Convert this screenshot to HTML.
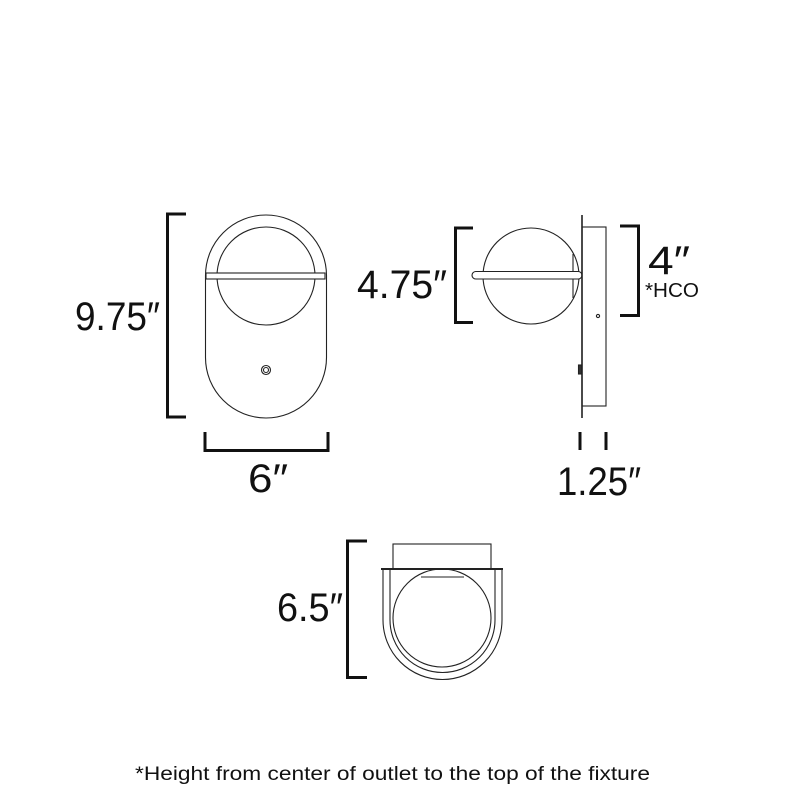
<!DOCTYPE html>
<html><head><meta charset="utf-8"><style>html,body{margin:0;padding:0;background:#fff}</style></head>
<body>
<svg width="800" height="800" viewBox="0 0 800 800" xmlns="http://www.w3.org/2000/svg" font-family="Liberation Sans, sans-serif">
<rect width="800" height="800" fill="#fff"/>
<g fill="none" stroke="#222" stroke-width="1.1">
  <!-- front view -->
  <rect x="205.5" y="215" width="121" height="203" rx="60.5" ry="60.5"/>
  <circle cx="266" cy="276" r="49"/>
  <rect x="206" y="273" width="119" height="6" fill="#fff"/>
  <circle cx="266" cy="370" r="4.5"/>
  <circle cx="266" cy="370" r="2.5"/>
  <!-- side view -->
  <circle cx="531" cy="276" r="48"/>
  <line x1="573" y1="254" x2="573" y2="298"/>
  <rect x="472" y="271.5" width="110" height="7.5" rx="3.75" fill="#fff"/>
  <rect x="582" y="227" width="24" height="179"/>
  <line x1="582" y1="215" x2="582" y2="418" stroke-width="1.6"/>
  <circle cx="598" cy="316" r="1.6"/>
  <rect x="578.5" y="365" width="3" height="9" fill="#333"/>
  <!-- bottom view -->
  <rect x="393" y="544" width="98" height="25"/>
  <path d="M383 569 V620 A59.5 59.5 0 0 0 502 620 V569"/>
  <path d="M390 569 V620 A52.5 52.5 0 0 0 495 620 V569"/>
  <circle cx="442" cy="618" r="49"/>
  <line x1="421" y1="577" x2="464" y2="577"/>
  <line x1="381" y1="569" x2="503" y2="569" stroke-width="2"/>
</g>
<g fill="none" stroke="#111" stroke-width="3">
  <path d="M186 214 H167.5 V417 H186"/>
  <path d="M205 432 V450.5 H328 V432"/>
  <path d="M473 228 H455.5 V322.5 H473"/>
  <path d="M620 226 H638.5 V315.5 H620"/>
  <path d="M580 432 V450"/>
  <path d="M606 432 V450"/>
  <path d="M367 541 H347.5 V677.5 H367"/>
</g>
<g fill="#111" font-size="40">
  <text x="75" y="330" textLength="85" lengthAdjust="spacingAndGlyphs">9.75″</text>
  <text x="248" y="492" textLength="40" lengthAdjust="spacingAndGlyphs">6″</text>
  <text x="357" y="298" textLength="90" lengthAdjust="spacingAndGlyphs">4.75″</text>
  <text x="648" y="274" textLength="42" lengthAdjust="spacingAndGlyphs">4″</text>
  <text x="557" y="495" textLength="84" lengthAdjust="spacingAndGlyphs">1.25″</text>
  <text x="277" y="621" textLength="66" lengthAdjust="spacingAndGlyphs">6.5″</text>
  <text x="645" y="297" font-size="20" textLength="54" lengthAdjust="spacingAndGlyphs">*HCO</text>
  <text x="135" y="780" font-size="19" textLength="515" lengthAdjust="spacingAndGlyphs">*Height from center of outlet to the top of the fixture</text>
</g>
</svg>
</body></html>
